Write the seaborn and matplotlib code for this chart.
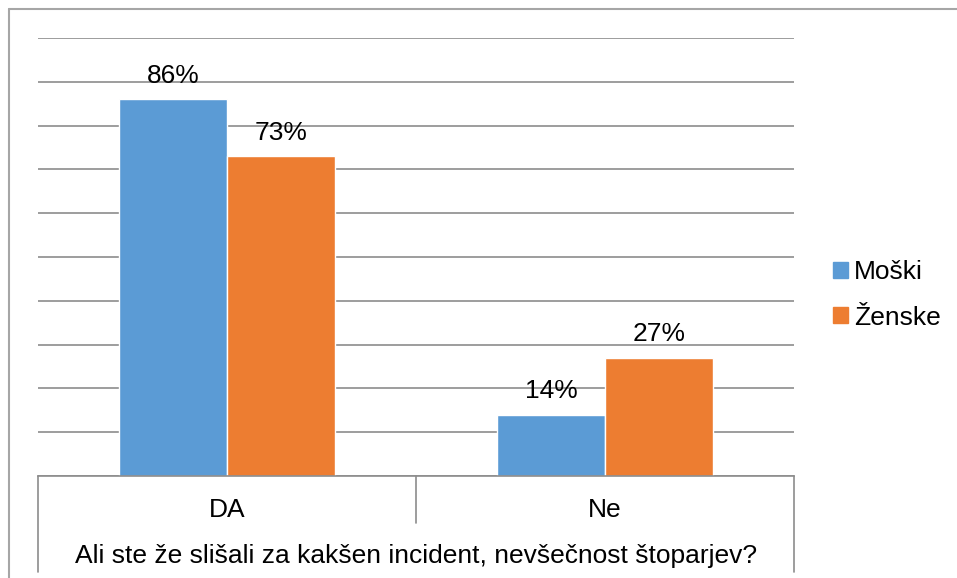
import pandas as pd
import seaborn as sns
import matplotlib.pyplot as plt
from matplotlib.lines import Line2D

categories = ['DA', 'Ne']
moski = [86, 14]
zenske = [73, 27]
series_names = ['Moški', 'Ženske']
colors = ['#5B9BD5', '#ED7D31']
axis_title = 'Ali ste že slišali za kakšen incident, nevšečnost štoparjev?'

df = pd.DataFrame({
    'odgovor': categories * 2,
    'spol': [series_names[0]] * 2 + [series_names[1]] * 2,
    'delez': moski + zenske,
})

sns.set_style('white')
plt.rcParams['font.family'] = ['Liberation Sans', 'DejaVu Sans']
plt.rcParams['text.color'] = 'black'
plt.rcParams['axes.labelcolor'] = 'black'

FS = 19
W, H = 957, 578
fig = plt.figure(figsize=(W / 100, H / 100), dpi=100)
ax = fig.add_axes([38 / W, (H - 476) / H, (794 - 38) / W, (476 - 38) / H])

sns.barplot(data=df, x='odgovor', y='delez', hue='spol', order=categories,
            hue_order=series_names, palette=colors, width=0.572, gap=0,
            saturation=1, ax=ax, legend=True)

grid_c = '#8c8c8c'
ax.set_ylim(0, 100)
ax.set_xlim(-0.5, 1.5)
ax.set_yticks(range(0, 101, 10))
ax.yaxis.grid(True, color=grid_c, lw=1.2)
ax.set_axisbelow(True)
ax.tick_params(axis='y', left=False, labelleft=False)
ax.tick_params(axis='x', bottom=False, labelsize=FS, pad=12, labelcolor='black')
for s in ['left', 'right', 'top']:
    ax.spines[s].set_visible(False)
ax.spines['bottom'].set_color(grid_c)
ax.spines['bottom'].set_linewidth(1.2)
ax.set_ylabel('')
ax.set_xlabel(axis_title, fontsize=FS, labelpad=16, color='black')

for patch in ax.patches:
    h = patch.get_height()
    if h > 0:
        ax.annotate(f'{h:.0f}%', (patch.get_x() + patch.get_width() / 2, h),
                    xytext=(0, 12), textcoords='offset points',
                    ha='center', va='baseline', fontsize=FS, color='black')

# category separators below the axis
tr = ax.transAxes
for xa, ya in [(0, -0.22), (0.5, -0.108), (1, -0.22)]:
    ax.add_line(Line2D([xa, xa], [0, ya], transform=tr, color=grid_c,
                       lw=1.2, clip_on=False))

handles = [plt.Rectangle((0, 0), 1, 1, color=c) for c in colors]
ax.legend(handles, series_names, loc='center left',
          bbox_to_anchor=(833 / W, (H - 295) / H), bbox_transform=fig.transFigure,
          frameon=False, fontsize=FS, handlelength=0.55, handleheight=0.55,
          handletextpad=0.25, labelspacing=0.8, borderaxespad=0,
          borderpad=0, labelcolor='black')

# outer chart border (only top and left visible)
fig.add_artist(Line2D([9 / W, 9 / W], [0, (H - 9) / H], color='#a6a6a6', lw=1.5))
fig.add_artist(Line2D([9 / W, 1], [(H - 9) / H, (H - 9) / H], color='#a6a6a6', lw=1.5))

fig.savefig('out.png', dpi=100)
